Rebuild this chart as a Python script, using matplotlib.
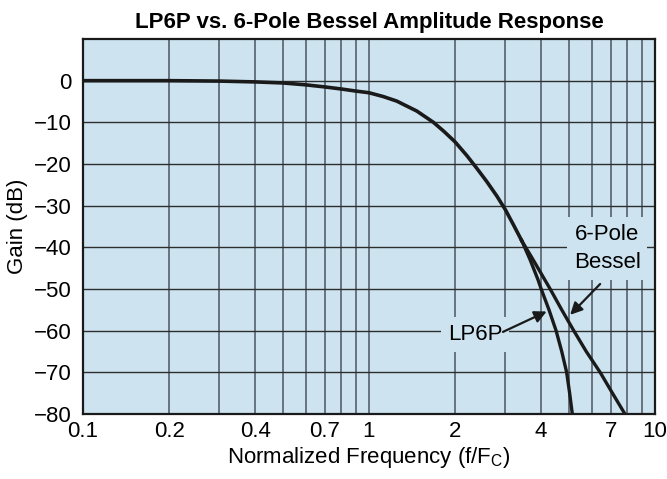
import numpy as np
import matplotlib
matplotlib.use('Agg')
import matplotlib.pyplot as plt

plt.rcParams['font.family'] = ['Liberation Sans', 'DejaVu Sans']
fs = 16

# shared part of both responses (f/Fc, dB)
common_f = [0.1, 0.2, 0.3, 0.4, 0.5, 0.6, 0.7, 0.8, 0.9, 1.0, 1.12, 1.25, 1.47, 1.68,
            1.83, 2.0, 2.2, 2.38, 2.58, 2.8, 3.0, 3.2, 3.42]
common_g = [0, 0, -0.1, -0.3, -0.55, -1.0, -1.5, -2.0, -2.5, -2.9, -3.8, -4.9, -7.3, -10.0,
            -12.2, -14.7, -18.0, -21.0, -24.2, -27.7, -31.0, -34.6, -38.4]

# tails where the curves split
lp6p_f = [3.42, 3.66, 3.9, 4.0, 4.26, 4.51, 4.72, 4.91, 5.03, 5.14]
lp6p_g = [-38.4, -43, -47.8, -50, -55, -60, -65, -70, -75, -80]
bessel_f = [3.42, 3.75, 4.3, 4.72, 5.2, 5.75, 6.43, 7.1, 7.85]
bessel_g = [-38.4, -43, -50, -55, -60, -65, -70, -75, -80]

grid_f = [0.1, 0.2, 0.3, 0.4, 0.5, 0.6, 0.7, 0.8, 0.9,
          1, 2, 3, 4, 5, 6, 7, 8, 9, 10]
grid_lbl = ['0.1', '0.2', '', '0.4', '', '', '0.7', '', '',
            '1', '2', '', '4', '', '', '7', '', '', '10']
y_ticks = [0, -10, -20, -30, -40, -50, -60, -70, -80]

bg = '#cde3f0'
ink = '#1a1a1a'

fig = plt.figure(figsize=(6.67, 4.79), dpi=100)
ax = fig.add_axes([0.1244, 0.1357, 0.8576, 0.7829])
ax.set_facecolor(bg)

ax.plot(common_f, common_g, color=ink, lw=2.6, solid_joinstyle='round')
ax.plot(lp6p_f, lp6p_g, color=ink, lw=2.4, solid_joinstyle='round')
ax.plot(bessel_f, bessel_g, color=ink, lw=2.4, solid_joinstyle='round')

ax.set_xscale('log')
ax.set_xlim(0.1, 10)
ax.set_ylim(-80, 10)
ax.set_xticks(grid_f)
ax.set_xticklabels(grid_lbl)
ax.minorticks_off()
ax.set_yticks(y_ticks)
ax.tick_params(length=0, labelsize=fs)
ax.tick_params(axis='x', pad=5)
ax.tick_params(axis='y', pad=8)

for f in grid_f[1:-1]:
    ax.axvline(f, color='#56616c', lw=1.2, zorder=0.5)
for g in y_ticks:
    ax.axhline(g, color='#2e2e2e', lw=1.0, zorder=0.5)

for s in ax.spines.values():
    s.set_color(ink)
    s.set_linewidth(1.6)

ax.set_title('LP6P vs. 6-Pole Bessel Amplitude Response', fontsize=fs,
             fontweight='bold', pad=8)
ax.set_xlabel(r'Normalized Frequency (f/F$_\mathregular{C}$)', fontsize=fs, labelpad=2)
ax.set_ylabel('Gain (dB)', fontsize=fs, labelpad=4)

ax.annotate('', xy=(4.18, -55.4), xytext=(2.94, -60.3),
            arrowprops=dict(arrowstyle='-|>', color=ink, lw=1.6,
                            mutation_scale=18, shrinkA=0, shrinkB=0), zorder=4)
ax.annotate('', xy=(5.05, -56.2), xytext=(6.43, -48.8),
            arrowprops=dict(arrowstyle='-|>', color=ink, lw=1.6,
                            mutation_scale=18, shrinkA=0, shrinkB=0), zorder=4)

ax.text(2.35, -61, 'LP6P', fontsize=fs, ha='center', va='center', zorder=3,
        bbox=dict(facecolor=bg, edgecolor='none', pad=5))
ax.text(6.8, -40.2, '6-Pole\nBessel', fontsize=fs, ha='center', va='center',
        linespacing=1.45, zorder=3,
        bbox=dict(facecolor=bg, edgecolor='none', pad=5))

fig.savefig('out.png', dpi=100)
